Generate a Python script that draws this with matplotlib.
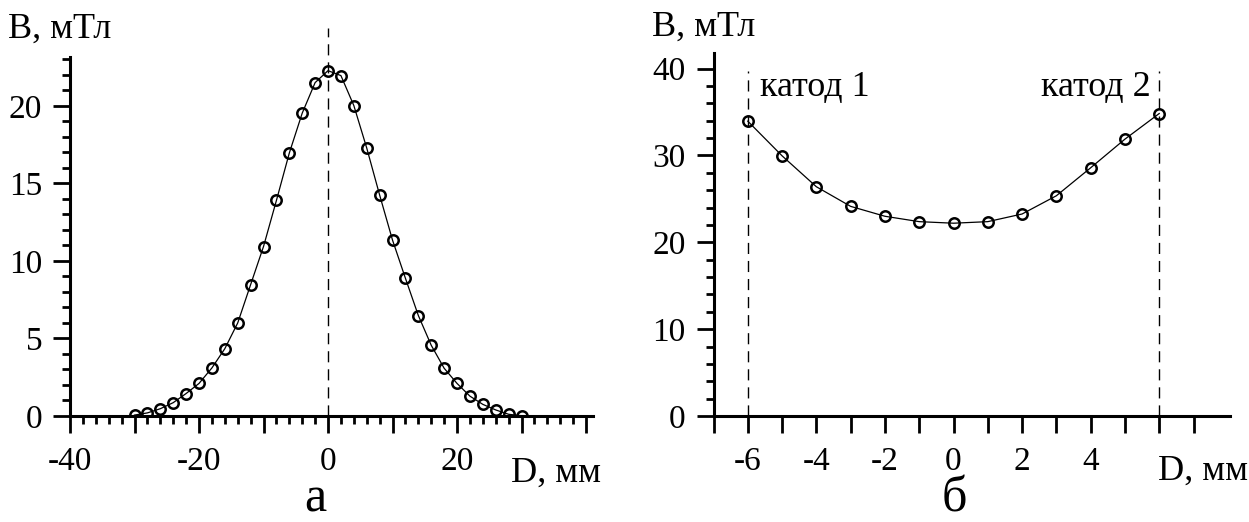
import numpy as np
import matplotlib
matplotlib.use("Agg")
import matplotlib.pyplot as plt
from matplotlib.ticker import MultipleLocator, FixedLocator

plt.rcParams['font.family'] = ['Liberation Serif', 'DejaVu Serif']

# panel а: field along the axis
d_a = [-30, -28, -26, -24, -22, -20, -18, -16, -14, -12, -10, -8, -6, -4, -2, 0,
       2, 4, 6, 8, 10, 12, 14, 16, 18, 20, 22, 24, 26, 28, 30]
b_a = [0.06, 0.2, 0.47, 0.86, 1.45, 2.1, 3.1, 4.34, 6.0, 8.47, 10.93, 13.9, 16.96,
       19.53, 21.5, 22.27, 21.95, 20.02, 17.28, 14.25, 11.34, 8.88, 6.48, 4.56,
       3.08, 2.1, 1.28, 0.75, 0.39, 0.11, 0.02]

# panel б: field between cathodes
d_b = [-6, -5, -4, -3, -2, -1, 0, 1, 2, 3, 4, 5, 6]
b_b = [33.95, 29.96, 26.4, 24.14, 23.0, 22.38, 22.2, 22.38, 23.26, 25.36, 28.58,
       31.88, 34.83]

a_xticks = [-40, -30, -20, -10, 0, 10, 20, 30, 40]
a_xlabels = ['-40', '', '-20', '', '0', '', '20', '', '']
b_xticks = [-7, -6, -5, -4, -3, -2, -1, 0, 1, 2, 3, 4, 5, 6, 7]
b_xlabels = ['', '-6', '', '-4', '', '-2', '', '0', '', '2', '', '4', '', '', '']

W, H = 1249, 522
fig = plt.figure(figsize=(W / 100, H / 100), dpi=100)


def px(x, y):
    return x / W, 1 - y / H


def style(ax):
    for s in ['top', 'right']:
        ax.spines[s].set_visible(False)
    for s in ['left', 'bottom']:
        ax.spines[s].set_linewidth(2.2)
    ax.tick_params(which='major', length=12, width=2, labelsize=24, pad=8)
    ax.tick_params(which='minor', length=6, width=2)
    ax.tick_params(axis='x', which='major', pad=10)


mk = dict(marker='o', ms=7.5, mfc='none', mec='black', mew=1.8, color='black', lw=0.9)
dash = dict(color='black', lw=1, ls=(0, (8, 5)), clip_on=False)

# --- а ---
ax1 = fig.add_axes([70 / W, 106 / H, 522.5 / W, 359 / H])
ax1.set_xlim(-40, 41)
ax1.set_ylim(0, 23.15)
style(ax1)
ax1.xaxis.set_major_locator(FixedLocator(a_xticks))
ax1.set_xticklabels(a_xlabels)
ax1.xaxis.set_minor_locator(MultipleLocator(2))
ax1.yaxis.set_major_locator(MultipleLocator(5))
ax1.yaxis.set_minor_locator(MultipleLocator(1))
ax1.plot([0, 0], [0, 25], **dash)
ax1.plot(d_a, b_a, **mk)

# --- б ---
ax2 = fig.add_axes([713.5 / W, 106 / H, 516 / W, 363 / H])
ax2.set_xlim(-7, 8.05)
ax2.set_ylim(0, 41.8)
style(ax2)
ax2.xaxis.set_major_locator(FixedLocator(b_xticks))
ax2.set_xticklabels(b_xlabels)
ax2.yaxis.set_major_locator(MultipleLocator(10))
ax2.yaxis.set_minor_locator(MultipleLocator(2))
for xv in [-6, 6]:
    ax2.plot([xv, xv], [0, 39.7], **dash)
ax2.plot(d_b, b_b, **mk)
ax2.text(-5.65, 36.9, 'катод 1', fontsize=26, ha='left', va='baseline')
ax2.text(5.75, 36.9, 'катод 2', fontsize=26, ha='right', va='baseline')

# labels
fig.text(*px(8, 38), 'B, мТл', fontsize=26, ha='left', va='baseline')
fig.text(*px(652, 36), 'B, мТл', fontsize=26, ha='left', va='baseline')
fig.text(*px(601, 482), 'D, мм', fontsize=26, ha='right', va='baseline')
fig.text(*px(1248, 480), 'D, мм', fontsize=26, ha='right', va='baseline')
fig.text(*px(315, 511), 'а', fontsize=36, ha='center', va='baseline')
fig.text(*px(954, 511), 'б', fontsize=36, ha='center', va='baseline')

fig.savefig('out.png', dpi=100)
